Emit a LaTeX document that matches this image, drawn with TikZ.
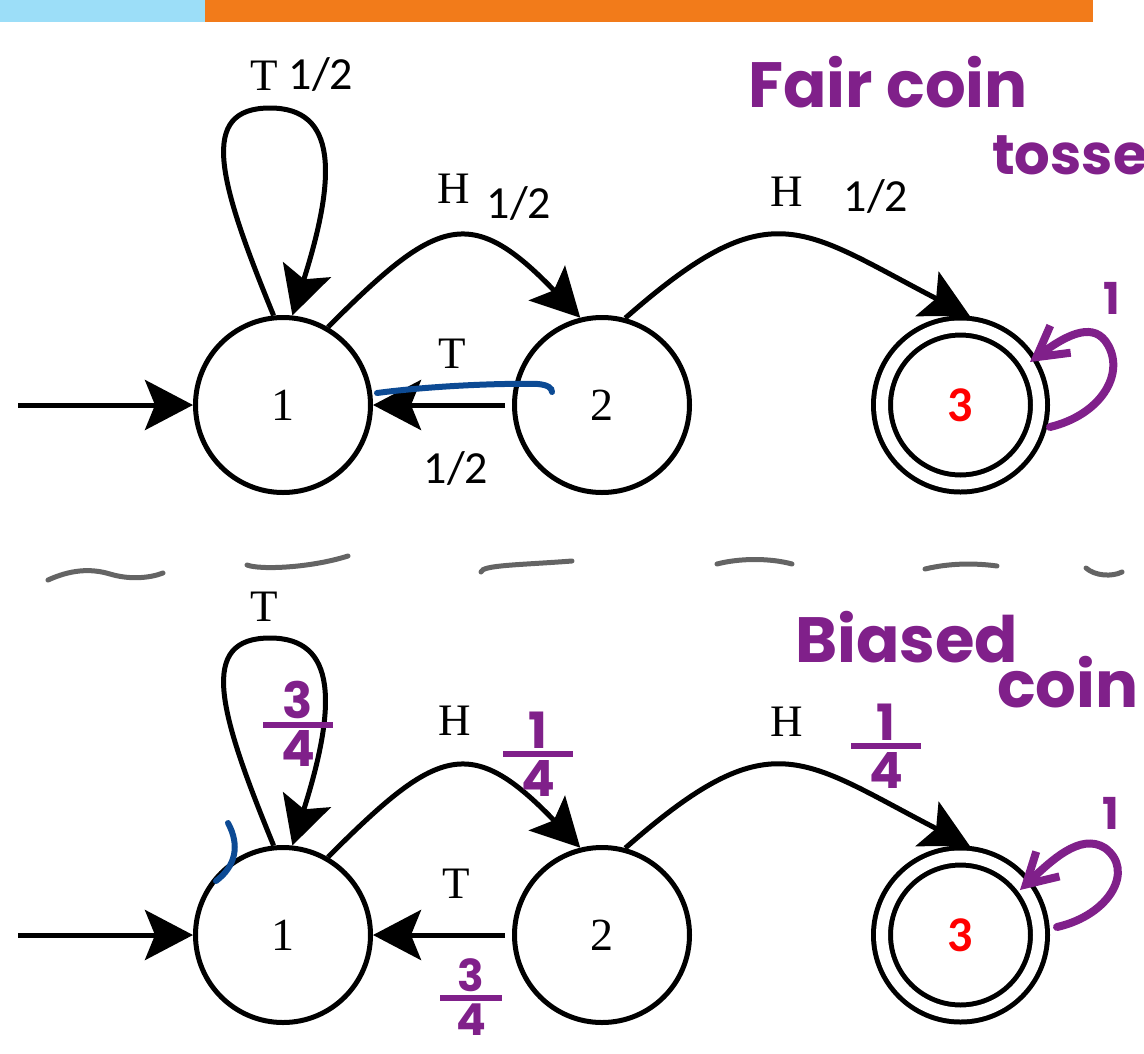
\documentclass[tikz,border=0pt]{standalone}
\usepackage{fontspec}
\setmainfont{Liberation Serif}
\newfontfamily\carlito{Carlito}
\newfontfamily\handfont{Poppins}
\usetikzlibrary{arrows.meta,positioning}
\definecolor{barblue}{RGB}{156,222,248}
\definecolor{barorange}{RGB}{242,123,26}
\definecolor{penpurple}{RGB}{128,32,138}
\definecolor{penblue}{RGB}{12,74,148}
\definecolor{pengrey}{RGB}{100,100,100}
\newcommand\handfrac[2]{\vbox{\offinterlineskip\halign{\hfil##\hfil\cr#1\cr\noalign{\kern3pt}\vrule width 1.4em height 6pt depth 0pt\cr\noalign{\kern3pt}#2\cr}}}

\begin{document}
\begin{tikzpicture}[
  x=1pt, y=-1pt,
  state/.style={circle, draw, line width=5pt, minimum size=175pt, inner sep=0pt, font=\fontsize{46}{46}\selectfont},
  final/.style={state, double=white, double distance=12pt, minimum size=157pt, outer sep=11pt, text=red, font=\carlito\bfseries\fontsize{50}{50}\selectfont},
  trans/.style={-{Stealth[length=48pt,width=50pt,inset=10pt]}, line width=5pt},
  sym/.style={inner sep=0pt, font=\fontsize{45}{45}\selectfont},
  prob/.style={inner sep=0pt, font=\carlito\fontsize{46}{46}\selectfont},
  hand/.style={inner sep=0pt, text=penpurple, font=\handfont\bfseries\fontsize{64}{64}\selectfont},
  handfr/.style={inner sep=0pt, text=penpurple, font=\handfont\bfseries\fontsize{50}{50}\selectfont},
  handone/.style={inner sep=0pt, text=penpurple, font=\handfont\bfseries\fontsize{44}{44}\selectfont},
  pen/.style={penpurple, line width=8pt, line cap=round, line join=round, -{Straight Barb[length=30pt,width=34pt]}},
  bluepen/.style={penblue, line width=6pt, line cap=round},
  greypen/.style={pengrey, line width=5pt, line cap=round},
]
\useasboundingbox (0,0) rectangle (1144,1053);
\clip (0,0) rectangle (1144,1053);

% slide bar
\fill[barblue] (0,0) rectangle (205,22);
\fill[barorange] (205,0) rectangle (1093,22);

% fair coin
\node[state] (a1) at (283,405) {1};
\node[state, right=139pt of a1] (a2) {2};
\node[final, right=179pt of a2] (a3) {3};
\coordinate (a0) at (18,405);

\draw[trans] (a0) -- (a1);
\draw[trans] (a1.96) .. controls (218,180) and (198,108) .. (270,108) .. controls (337,108) and (337,175) .. (a1.84);
\draw[trans] (a1.60) .. controls (437,218) and (470,203) .. (a2.104);
\draw[trans] (a2.75) .. controls (771,190) and (800,228) .. (a3.84);
\draw[trans, shorten <=7pt] (a2) -- (a1);

\node[sym] (aT0) at (264,76) {T};
\node[prob] (ap0) at (321,75) {1/2};
\node[sym] (aH1) at (454,189) {H};
\node[prob] (ap1) at (519,204) {1/2};
\node[sym] (aH2) at (787,192) {H};
\node[prob] (ap2) at (876,197) {1/2};
\node[sym] (aT1) at (452,354) {T};
\node[prob] (ap3) at (456,468) {1/2};

\draw[bluepen] (377,393) .. controls (430,386) and (500,383) .. (538,384) .. controls (548,385) and (552,388) .. (552,392);

\node[hand, anchor=base west] (fair) at (748,107) {Fair coin};
\node[hand, anchor=base west, font=\handfont\bfseries\fontsize{56}{56}\selectfont] (toss) at (992,174) {tosses};
\draw[pen] (1050,427) .. controls (1100,415) and (1125,375) .. (1108,345) .. controls (1095,322) and (1070,332) .. (1030,362);
\node[handone] (aone) at (1112,298) {1};

% divider
\draw[greypen] (48,580) .. controls (70,570) and (90,568) .. (110,574) .. controls (130,580) and (150,578) .. (163,573);
\draw[greypen] (247,565) .. controls (260,570) and (310,568) .. (348,556);
\draw[greypen] (481,572) .. controls (482,565) and (520,565) .. (572,561);
\draw[greypen] (717,564) .. controls (740,558) and (770,558) .. (792,564);
\draw[greypen] (925,569) .. controls (950,563) and (975,563) .. (997,566);
\draw[greypen] (1086,568) .. controls (1095,576) and (1112,577) .. (1122,572);

% biased coin
\node[state, below=350pt of a1] (b1) {1};
\node[state, right=139pt of b1] (b2) {2};
\node[final, right=179pt of b2] (b3) {3};
\coordinate (b0) at (18,935);

\draw[trans] (b0) -- (b1);
\draw[trans] (b1.96) .. controls (218,710) and (198,638) .. (270,638) .. controls (337,638) and (337,705) .. (b1.84);
\draw[trans] (b1.60) .. controls (437,748) and (470,733) .. (b2.104);
\draw[trans] (b2.75) .. controls (771,720) and (800,758) .. (b3.84);
\draw[trans, shorten <=7pt] (b2) -- (b1);

\node[sym] (bT0) at (264,607) {T};
\node[sym] (bH1) at (455,721) {H};
\node[sym] (bH2) at (787,722) {H};
\node[sym] (bT1) at (456,884) {T};

\node[handfr] (bq0) at (298,724) {\handfrac{3}{4}};
\node[handfr] (bq1) at (538,754) {\handfrac{1}{4}};
\node[handfr] (bq2) at (886,746) {\handfrac{1}{4}};
\node[handfr, font=\handfont\bfseries\fontsize{44}{44}\selectfont] (bq3) at (471,997) {\handfrac{3}{4}};

\draw[bluepen] (228,823) .. controls (240,845) and (236,866) .. (216,881);

\node[hand, anchor=base west] (bias) at (795,662) {Biased};
\node[hand, anchor=base west] (coin) at (997,707) {coin};
\draw[pen] (1057,927) .. controls (1110,915) and (1135,870) .. (1105,848) .. controls (1080,832) and (1050,862) .. (1020,890);
\node[handone] (bone) at (1111,813) {1};
\end{tikzpicture}
\end{document}
